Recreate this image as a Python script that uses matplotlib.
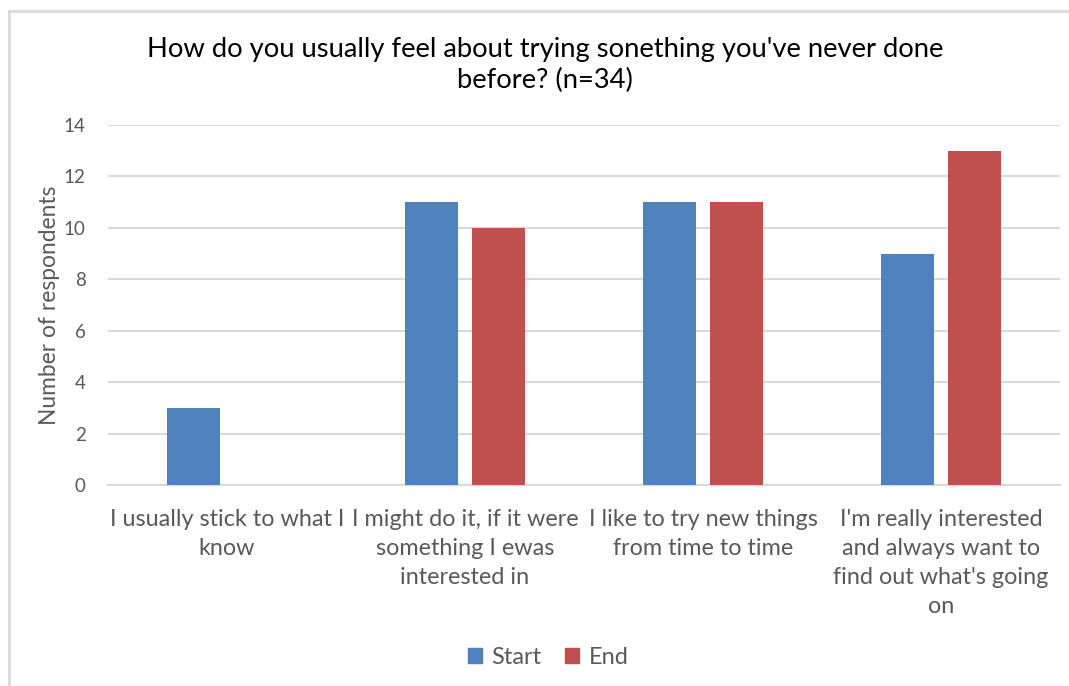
import numpy as np
import matplotlib.pyplot as plt
from matplotlib.lines import Line2D

plt.rcParams['font.family'] = ['Lato', 'DejaVu Sans']

categories = [
    "I usually stick to what I\nknow",
    "I might do it, if it were\nsomething I ewas\ninterested in",
    "I like to try new things\nfrom time to time",
    "I'm really interested\nand always want to\nfind out what's going\non",
]
start = [3, 11, 11, 9]
end = [0, 10, 11, 13]

BLUE = '#4F81BD'
RED = '#C0504D'
TXT = '#595959'
GRID = '#D9D9D9'

fig = plt.figure(figsize=(10.69, 6.86), dpi=100)
ax = fig.add_axes([108 / 1069, 1 - 485 / 686, 952 / 1069, 360 / 686])

x = np.arange(len(categories))
w = 0.223
off = 0.141
ax.bar(x - off, start, w, color=BLUE, label='Start', zorder=3)
ax.bar(x + off, end, w, color=RED, label='End', zorder=3)

ax.set_xlim(-0.5, len(categories) - 0.5)
ax.set_ylim(0, 14)
ax.set_yticks(range(0, 15, 2))
ax.yaxis.grid(True, color=GRID, linewidth=1.5, zorder=0)
ax.set_axisbelow(True)
for s in ['top', 'right', 'left']:
    ax.spines[s].set_visible(False)
ax.spines['bottom'].set_color(GRID)
ax.spines['bottom'].set_linewidth(1.5)

ax.set_xticks(x)
ax.set_xticklabels(categories, fontsize=16.8, color=TXT, linespacing=1.47)
ax.tick_params(axis='x', length=0, pad=17)
ax.tick_params(axis='y', length=0, pad=16, labelsize=13.5, labelcolor=TXT)
ax.set_ylabel('Number of respondents', fontsize=16.4, color=TXT, labelpad=3)

fig.text(545 / 1069, 1 - 65 / 686,
         "How do you usually feel about trying sonething you've never done\nbefore? (n=34)",
         ha='center', va='center', fontsize=19.7, color='black', linespacing=1.25)

handles = [plt.Rectangle((0, 0), 1, 1, color=BLUE), plt.Rectangle((0, 0), 1, 1, color=RED)]
fig.legend(handles, ['Start', 'End'], loc='center', bbox_to_anchor=(548 / 1069, 1 - 657 / 686),
           ncol=2, frameon=False, fontsize=17, labelcolor=TXT,
           handlelength=0.6, handleheight=0.6, handletextpad=0.4, columnspacing=1.0)

# light outline around the chart area
fig.add_artist(Line2D([9 / 1069, 1], [1 - 11 / 686] * 2, color=GRID, linewidth=2))
fig.add_artist(Line2D([9 / 1069] * 2, [0, 1 - 11 / 686], color=GRID, linewidth=2))

fig.savefig('out.png', dpi=100)
